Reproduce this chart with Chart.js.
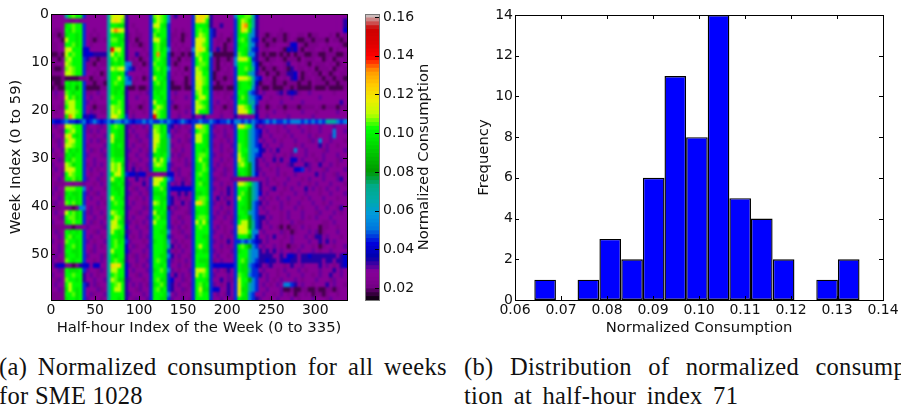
<!DOCTYPE html>
<html>
<head>
<meta charset="utf-8">
<title>Normalized consumption for SME 1028</title>
<script src="https://cdn.jsdelivr.net/npm/chart.js@4/dist/chart.umd.min.js"></script>
<style>
  html, body { margin: 0; background: #fff; }
  body { position: relative; width: 901px; height: 406px; overflow: hidden; }
  canvas { position: absolute; top: 0; }
  .caption {
    position: absolute; white-space: nowrap; color: #111; letter-spacing: 0.3px;
    font-family: "Liberation Serif", serif; font-size: 24.5px; line-height: 29px;
  }
</style>
</head>
<body>
<canvas id="heatmap" width="362" height="340" style="left:0"></canvas>
<canvas id="colorbar" width="98" height="340" style="left:362px"></canvas>
<canvas id="histogram" width="441" height="340" style="left:460px"></canvas>
<div class="caption" style="left:-1px;top:352px;word-spacing:4.3px">(a) Normalized consumption for all weeks<br><span style="word-spacing:0">for SME 1028</span></div>
<div class="caption" style="left:464px;top:352px;word-spacing:10px">(b) Distribution of normalized consump<br><span style="word-spacing:4px">tion at half-hour index 71</span></div>
<script>
// panel (a): one string per week, one letter per 4 half-hours
const levelLetters = 'abcdefghijklmnopqv'
const levelValues = [0.018, 0.0225, 0.0275, 0.034, 0.041, 0.046, 0.053, 0.068, 0.084, 0.097, 0.102, 0.106, 0.11, 0.115, 0.122, 0.133, 0.142, 0.0305]
const halfHoursPerCell = 4
const weekRows = [
  'cccc hklkk fcccccc hmnnmd cccccc flmlkg cdcccc fnoomd cccccc gkkllhe ccccccccccccccccccccccccc',
  'cccc cbbcb ccccccc hnonld cccccc fkmlkg cccccc foonkd cccccc fjmljhd ccccccccccccccccccccccccd',
  'cccc jklkk fcccccc hkkjjd cbcccc fmnkjf cccccc fkkkjd ccdccc fjopkhd ccccccccccccccccccccccccd',
  'cbbc kjlkk fccbccc hnpomd ccbccc fklkkf cbcbcc fklkkf dccccc fjomjgd ccccccbccccccccccccccccce',
  'bbab jkkjk fcbcbcc hkjjkd bcbbcc fljkkf bbcabc fkmlkf dcbccb fjkkhgd cbabcbbabccbbcabbcccbcacb',
  'bcba mkkjk fcbabcb hlljjd bcabcc fmnkjf bcbacc fnnmkf cbbcab fkljhfe cabbabbabcbaabbabbbacbbab',
  'bbcb kkljk fcbcccc hkkjkd cbbabc fkljjf cbcbcc fnnlkf cbcabc fjkkhgd cbabbcccbeecbabbbccbcccba',
  'bbcc mnkkk eeccccc hqmnkd ccccbc fkljkg bcbcbb gnomjf cdbabb fkkjhfe cbbcccbaedebacbbccbcacbcc',
  'aaba mklkk eeedddd hnklkd ccdbcb fkpkkf abbaba fmlkkg aaaaaa flkjggd babaababacabbaabbaabbbaab',
  'bbab lmkkk fdbbabb hkljkd cbcabc fklkjf bbacbb fkmkkf babbab gmnmkfd cbabbcbabbbacbbbccabcabcb',
  'bbcb mlkkk fbbacbb hjkjkg gbbcab flkkjf babccc fkllkf bacbcb gkkkjge abcbcccbdccbcbacbbbcbcabc',
  'baab lmlkk fbccbcc hmlmng fdcbcc fkljkg ccbcab fmlkjf babcbc fkkljhe babbabcbadcbbcbcabbbcabcb',
  'bbbc mmlkk fccbcab hkkjkf ccccbc fjkjkf cbcbcb fmmkkf abcbbc fkkjhgd bcabbabbddecabcbbacbabcbb',
  'aaab aaaab bcabbcb hkkmkg fcbcab fmkkjf bcccab fnmlkf abbabb fnnmlhf ecbcabcbcdebabbcbbabbabba',
  'baab kjkjk fbbabba hklkjg gbcccc fkljkf abcbab fmnlkf cabbcb fjkkjhe abcbabbabbbabbacbbbabbabb',
  'abaa jjkik faaaabb hkjjkd aabaab fjjjkf aaabaa fmmkjf aaabaa fjkkkgd baabaaabbabaaaabaaabaaaab',
  'cvcc lkjkk fbbcvcc hkjkjd cccbcv fkjkkf cvcccc flmkkf cbcbbc fkkjgfd cvcccvdcdedbccvccccccbccc',
  'cbcc mkljk fcvccbc hlkkkd ccvccc fkkjkf cbccvc fkmmkf cccbcv fjljhgf eccbccbccvcccccccvccccccc',
  'cccb lmmkk fvcbccc hkklkd ccccbc fmkkjf vccccc fmlkjf cvccbc fkkjhhf ccbcccvcccccvccccccccccdc',
  'bcbb kmmkk fcbabbb hmllkd bcbabc fkmljf babcbb fmmljf bcbabb fnnljgd bcabcbbabbbabbbbcbabbbabb',
  'cbcc mmmlk fcvbcbb hmlmkd cbccbc fnlkjf ccbcvc fmkkjf ccbccb fnnmkhd ccbcvccbccccvcccbcccccvcc',
  'cccc jpmkk ededccc hnnlkf cvcccc fqlkjf ccvccc dccdcc ccvccc dcbccce ccvcccccvccccccvccccccccc',
  'feef gffef gefgfef gfggfg feffgf gffgfg fefgfe ffgffg feffge ggfgfgf efgfgffgfgggfgfgfgfhhhgfg',
  'cvcc mmlkk fvccbvc hklkjd vcbcvc flljkf dcvcbc fnolkf vccbcv fnolkgd cvcccbcvcccvccbccvcccvccc',
  'ccbv klmkk fbvcvcc hkkjjd cvcccb fmljkf cvbccv fkllkf cbcvcc fkkjhgf ecvccbccvcccvcbccvcccgccv',
  'vccb mokjk fccbccv hnkjjd bcvccv fmmkjg vcccbc fmmkjf vccvbc fkkjhgf dccvcccbcvccccvcbcccvgccc',
  'cbvc lnmkk fcvcvbc hmjjjd ccbvcc fnmjjh ccvcbv fmmkjf ccbcvc fkkjhgf cvccvcbcccvcccbvcgccvcccb',
  'ccvc mmlkk fbccccv hkjkjd cvccbc fnljjh vccbcc fkkkjf bcvccv flkjhgf ecvcccvcccbcvccccdcvccbcc',
  'vccv ljkjk fcvbcvc hkjjjd vccvcb fmkjjh cbcvcc fkkjkf ccvcbc flkkhgg edcvcdcccbgccvccccbvccccv',
  'cbcc jkjkk fvcccbv hkjjjd ccvccv fjkjkh vcvbcc fkllkf vcbccv fmkjhgf ecccvccbcvcccvcbccvcccvcc',
  'ccvb kjlkk fccvccc hlkkkd bccvcc fmjmkg ccbcvc fkmkjf ccvcbc fnljhgd cvccdcdcceecvcccbcvcccbvc',
  'vccc mljkk fbcvcvc hmlmjd cvbccv flmlkf vcccvb fjkljf cvcbcc flmkigd ccvccbccvdcccdvccdccvcbcc',
  'cvcb mnmkk fcvcbcc hmlnkd cdcvcb fkkkkf cbvccc fjklkf vccvbc fkkjigd vccbcvcccceefcvcccbvccccv',
  'bccv kmlkk fcbccvc hkmnkf eedeeb bbcbbe ecvccb fklkjf ccbvcc fjkjige cvcccvcbccvcccccdcvccbvcc',
  'ccvc kkljk fvccvbc hmkjkd ccdcvc fmnnkg fccvbc fkjkjf vbcccv bbbbbcc ccvcbcccvcccbcvcccvcccvdc',
  'cbbb ccbcb vccbcvc hjjkjd vcccdc fnmkkf cvcdcb fkljjf ccvcbc fnmlkhg dcvccbcvcccvccbcvcccvcccb',
  'cvcc lllkk gcvcccb hkjjkd cbvccv fkkljf eeeeee fkkkjf vcbcdc fkkkihg dccvdccbcvcccdcvcbcvccvcc',
  'vcbc jkjjk fvcbvcc hkkjkd vccvcb fjjjkf ccdcdc fjjkjf ccvcdc fkljihg ecvcccbcccvccvcccbccvcccv',
  'ccvc kjkjk fcvccbc hmkkjd ccbcvc fkkjjf dcvcbc fkllkf cdcvbc fmkjihg cvcbcvccvcccbcvcccvcccbcc',
  'bvcc lkljk fcccvcb hklkkd cvccbc fmljkf dccdcv fnoljf vcbcdc fkkjigf dcvcccvcbccvcccvccbcvcccc',
  'bbbc bbabg gcvcbcc hkkkjd vcccvb fkkjkd cvbccv fkkkjf ccvcbc fkjjigf cvccbcvcccvcbcccvccvccbdc',
  'cvcc mkljk fbvccvc hmlkkd ccbvcc fmjkjf vcccbv fjkkjf cvcbvc fkkjhgf ccvcccbcvcccvcccbvcccvcbc',
  'ccbv klljk fccvccb hkmljd cvcccv fkljjf ccvbcc fkllkf vccvcb fjkkigf ddcvccbcvcccvcbcvcccvcccc',
  'vccc jklkk fcvbcvc hmnkjd vcbcvc fmkkkf cbcvcc fmkmjf ccbccv fkmmihf dcvcccbccvcbbcccccbbcvccc',
  'bbbb bbabb cvcccbv hnmlke ccvccb fkkkjf vcvcbc fklkkf cvcbcc fnnmihf dccvcbacabbcvcbccabbccbcc',
  'cvbc kjkjk fccbvcc hmkjkd vccvcc fkkjjg ccbvcc fkkkkf vccbcv fmnmkgg cvccccvbcabcccvcvabcccvcc',
  'ccvc kljkk fcvccbc hkkjje cbcvcv fkkkjf vcccvb fkkjjf ccvcbc fkkkige ccvcdccbcvcccvcbddcvcccbc',
  'vcbc lkkjk fvcbccv hkljkf vcccbc fjkkjg cvcbcc fkkkjf vcbcdc ffgfgfe dcvcccbccvccccvccdcdcvccc',
  'ccvc jkljk fccvcbc hklkke cvbccv fkkkjh dcvcbc fkmkjf ccvcbc fkljigf cvccvcbcabbcvccbcabccbccv',
  'bcvc kkjjk fcbvccc hmkkke vcccvc fkkkjf cbcvcc fjkjjf vcbccv fjkkhgg dcdcdcvccbcvcccvcbccvcccc',
  'cvcc jkkjk fvcccvb hkjkkd cbvcbc fkkjjg dcvccb fkkkkf cvccbc fkkkhgg ddddccdceedcddedddddddcde',
  'vcbc lkjkk fccbcvc hklkjd ccvccv fklkjf vcbcvc fkjjjf bcvccc fkljhgf ddeddcdeeddcddddddcddcdde',
  'cdee bbabd eeceecc honoke vcbcvc fkkjkf ccvcbc fkkkjf eeeeee fkjjgfe dcvdcccbcdccvccccdcvcbcde',
  'ccvb kjjjk fvccbvc hmmkke cvcccv fjkljg vcbccv fmnmkf cvcbdc fkjjhff cvcccbcvcccvcbcccvcccdcvc',
  'vccc kklkk dcvcbcc hklkke ccbvcc fkkkjf cdcvcb fmklkf vcccvc flkjgff dcvccbccvcccvccbcvccdccvc',
  'cbvc lkkjk dccvccv hmljjd vcccbc fkljjf eccvbc fkkkjf ccdcvb fmkkigf ccvcbcvcccvcbcccvcccbvccc',
  'cvcc kmkkk fdcvbcc hklmkd cvcvcb fjkljf dcvccb fkljkf vcbcdc fnkjhgf cvcbcvcggfdcvccbcccdcvccb',
  'ccvb jmkjk fcccvbc hkmmkd ccbvcc fkljkf dccvbc fkmjjf eeccdc fnjjhgf ccvcccvaabaabbaabaabbabcc',
  'bbbb kkljk fcvbccv hkkkkd vcccvc fkkkjg cvcbcc fklkkf cvcbdc fnkjgfc cvccbcvcbcabcbcabbabccbcc',
  'bbbb jkkjk fvcccbc hkkjkd cbvccv fkkjjf vccvcb fkkkkf ccvccb fkjjgfd vccbcvcccvcbcccvcccbvcccc'
]
const halfHourTicks = [0, 50, 100, 150, 200, 250, 300]
const weekTicks = [0, 10, 20, 30, 40, 50]

// colorbar
const colorbarLevels = [0.014, 0.016, 0.018, 0.02, 0.022, 0.024, 0.026, 0.028, 0.03, 0.032, 0.034, 0.036, 0.038, 0.04, 0.042, 0.044, 0.046, 0.048, 0.05, 0.052, 0.054, 0.056, 0.058, 0.06, 0.062, 0.064, 0.066, 0.068, 0.07, 0.072, 0.074, 0.076, 0.078, 0.08, 0.082, 0.084, 0.086, 0.088, 0.09, 0.092, 0.094, 0.096, 0.098, 0.1, 0.102, 0.104, 0.106, 0.108, 0.11, 0.112, 0.114, 0.116, 0.118, 0.12, 0.122, 0.124, 0.126, 0.128, 0.13, 0.132, 0.134, 0.136, 0.138, 0.14, 0.142, 0.144, 0.146, 0.148, 0.15, 0.152, 0.154, 0.156, 0.158, 0.16]
const colorbarTicks = [0.02, 0.04, 0.06, 0.08, 0.1, 0.12, 0.14, 0.16]
const colorMin = 0.0138
const colorMax = 0.1616

// panel (b)
const binCenters = [0.06655, 0.07125, 0.07595, 0.0807, 0.08545, 0.09015, 0.09485, 0.09955, 0.10425, 0.10895, 0.11365, 0.1184, 0.12315, 0.12785, 0.13255]
const binCounts = [1, 0, 1, 3, 2, 6, 11, 8, 14, 5, 4, 2, 0, 1, 2]
const consumptionTicks = [0.06, 0.07, 0.08, 0.09, 0.1, 0.11, 0.12, 0.13, 0.14]
const frequencyTicks = [0, 2, 4, 6, 8, 10, 12, 14]

const spectralStops = [
  [0, 0, 0], [119, 0, 136], [136, 0, 153], [0, 0, 170], [0, 0, 221], [0, 119, 221], [0, 153, 221],
  [0, 170, 170], [0, 170, 136], [0, 153, 0], [0, 187, 0], [0, 221, 0], [0, 255, 0], [187, 255, 0],
  [238, 238, 0], [255, 204, 0], [255, 153, 0], [255, 0, 0], [221, 0, 0], [204, 0, 0], [204, 204, 204]
]

function colorFor(value) {
  const t = Math.min(Math.max((value - colorMin) / (colorMax - colorMin), 0), 1) * (spectralStops.length - 1)
  const i = Math.min(Math.floor(t), spectralStops.length - 2)
  const f = t - i
  const c = spectralStops[i].map((v, k) => Math.round(v + (spectralStops[i + 1][k] - v) * f))
  return `rgb(${c[0]},${c[1]},${c[2]})`
}

const tickFont = { family: '"DejaVu Sans"', size: 14 }
const titleFont = { family: '"DejaVu Sans"', size: 14.8 }

Chart.defaults.animation = false
Chart.defaults.color = '#111'

// matplotlib style frame with ticks pointing inwards on all four sides
const frameTicks = {
  id: 'frameTicks',
  afterDraw(chart, args, opts) {
    const { ctx, chartArea: a, scales } = chart
    ctx.save()
    ctx.strokeStyle = opts.color || '#000'
    ctx.lineWidth = 1
    ctx.strokeRect(Math.round(a.left) + 0.5, Math.round(a.top) + 0.5, Math.round(a.width), Math.round(a.height))
    ctx.strokeStyle = '#000'
    ctx.beginPath()
    if (!opts.onlyRight) {
      scales.x.ticks.forEach((t) => {
        const px = Math.round(scales.x.getPixelForValue(t.value)) + 0.5
        ctx.moveTo(px, a.top); ctx.lineTo(px, a.top + 4)
        ctx.moveTo(px, a.bottom); ctx.lineTo(px, a.bottom - 4)
      })
    }
    scales.y.ticks.forEach((t) => {
      const py = Math.round(scales.y.getPixelForValue(t.value)) + 0.5
      if (!opts.onlyRight) { ctx.moveTo(a.left, py); ctx.lineTo(a.left + 4, py) }
      ctx.moveTo(a.right, py); ctx.lineTo(a.right - 4, py)
    })
    ctx.stroke()
    ctx.restore()
  }
}

// the original image is interpolated, so soften the cells
const softenCells = {
  id: 'softenCells',
  afterDatasetsDraw(chart) {
    const { ctx, canvas, chartArea: a } = chart
    ctx.save()
    ctx.beginPath()
    ctx.rect(a.left, a.top, a.width, a.height)
    ctx.clip()
    ctx.filter = 'blur(1px)'
    ctx.drawImage(canvas, a.left, a.top, a.width, a.height, a.left, a.top, a.width, a.height)
    ctx.restore()
  }
}

const rightTitle = {
  id: 'rightTitle',
  afterDraw(chart) {
    const { ctx, chartArea: a } = chart
    ctx.save()
    ctx.translate(62, (a.top + a.bottom) / 2)
    ctx.rotate(-Math.PI / 2)
    ctx.font = '14.8px "DejaVu Sans"'
    ctx.fillStyle = '#111'
    ctx.textAlign = 'center'
    ctx.textBaseline = 'middle'
    ctx.fillText('Normalized Consumption', 0, 0)
    ctx.restore()
  }
}

function fixedTicks(list) {
  return (scale) => { scale.ticks = list.map((value) => ({ value })) }
}

const heatCells = []
const heatColors = []
weekRows.forEach((row, week) => {
  row.replace(/ /g, '').split('').forEach((letter, col) => {
    heatCells.push({ x: [col * halfHoursPerCell, (col + 1) * halfHoursPerCell], y: week + 0.5 })
    heatColors.push(colorFor(levelValues[levelLetters.indexOf(letter)]))
  })
})

new Chart(document.getElementById('heatmap'), {
  type: 'bar',
  data: {
    datasets: [{
      data: heatCells,
      backgroundColor: heatColors,
      borderWidth: 0,
      inflateAmount: 0.4,
      barPercentage: 1,
      categoryPercentage: 1
    }]
  },
  plugins: [softenCells, frameTicks],
  options: {
    indexAxis: 'y',
    responsive: false,
    devicePixelRatio: 1,
    layout: { autoPadding: false, padding: { top: 14, right: 15, left: 0, bottom: 0 } },
    plugins: { legend: { display: false }, tooltip: { enabled: false } },
    scales: {
      x: {
        type: 'linear',
        min: 0,
        max: 336,
        grid: { display: false, drawTicks: false },
        border: { display: false },
        afterBuildTicks: fixedTicks(halfHourTicks),
        afterFit(scale) { scale.height = 40 },
        ticks: { font: tickFont, maxRotation: 0, padding: 2 },
        title: { display: true, text: 'Half-hour Index of the Week (0 to 335)', font: titleFont, padding: { top: 0, bottom: 3 } }
      },
      y: {
        type: 'linear',
        reverse: true,
        offset: false,
        min: 0,
        max: 59.6,
        grid: { display: false, drawTicks: false },
        border: { display: false },
        afterBuildTicks: fixedTicks(weekTicks),
        afterFit(scale) { scale.width = 51 },
        ticks: { font: tickFont, padding: 2 },
        title: { display: true, text: 'Week Index (0 to 59)', font: titleFont, padding: { top: 7, bottom: 0 } }
      }
    }
  }
})

new Chart(document.getElementById('colorbar'), {
  type: 'bar',
  data: {
    datasets: [{
      data: colorbarLevels.map((v) => ({ x: [0, 1], y: v + 0.001 })),
      backgroundColor: colorbarLevels.map((v) => colorFor(v + 0.001)),
      borderWidth: 0,
      inflateAmount: 0.4,
      barPercentage: 1,
      categoryPercentage: 1
    }]
  },
  plugins: [frameTicks, rightTitle],
  options: {
    indexAxis: 'y',
    responsive: false,
    devicePixelRatio: 1,
    layout: { autoPadding: false, padding: { top: 14, left: 3, right: 0, bottom: 40 } },
    plugins: { legend: { display: false }, tooltip: { enabled: false }, frameTicks: { color: '#777', onlyRight: true } },
    scales: {
      x: { type: 'linear', min: 0, max: 1, display: false },
      y: {
        type: 'linear',
        position: 'right',
        offset: false,
        min: colorMin,
        max: colorMax,
        grid: { display: false, drawTicks: false },
        border: { display: false },
        afterBuildTicks: fixedTicks(colorbarTicks),
        afterFit(scale) { scale.width = 81 },
        ticks: { font: tickFont, padding: 4, callback: (v) => v.toFixed(2) }
      }
    }
  }
})

new Chart(document.getElementById('histogram'), {
  type: 'bar',
  data: {
    datasets: [{
      data: binCenters.map((x, i) => ({ x, y: binCounts[i] })),
      backgroundColor: '#0000ff',
      borderColor: '#000',
      borderWidth: 1.4,
      borderSkipped: false,
      inflateAmount: 0,
      barPercentage: 1,
      categoryPercentage: 1
    }]
  },
  plugins: [frameTicks],
  options: {
    responsive: false,
    devicePixelRatio: 1,
    layout: { autoPadding: false, padding: { top: 15, right: 18, left: 0, bottom: 0 } },
    plugins: { legend: { display: false }, tooltip: { enabled: false } },
    scales: {
      x: {
        type: 'linear',
        offset: false,
        min: 0.06,
        max: 0.14,
        grid: { display: false, drawTicks: false },
        border: { display: false },
        afterBuildTicks: fixedTicks(consumptionTicks),
        afterFit(scale) { scale.height = 40 },
        ticks: { font: tickFont, maxRotation: 0, padding: 2, callback: (v) => v.toFixed(2) },
        title: { display: true, text: 'Normalized Consumption', font: titleFont, padding: { top: 0, bottom: 3 } }
      },
      y: {
        type: 'linear',
        min: 0,
        max: 14,
        grid: { display: false, drawTicks: false },
        border: { display: false },
        afterBuildTicks: fixedTicks(frequencyTicks),
        afterFit(scale) { scale.width = 55 },
        ticks: { font: tickFont, padding: 2 },
        title: { display: true, text: 'Frequency', font: titleFont, padding: { top: 15, bottom: 0 } }
      }
    }
  }
})
</script>
</body>
</html>
